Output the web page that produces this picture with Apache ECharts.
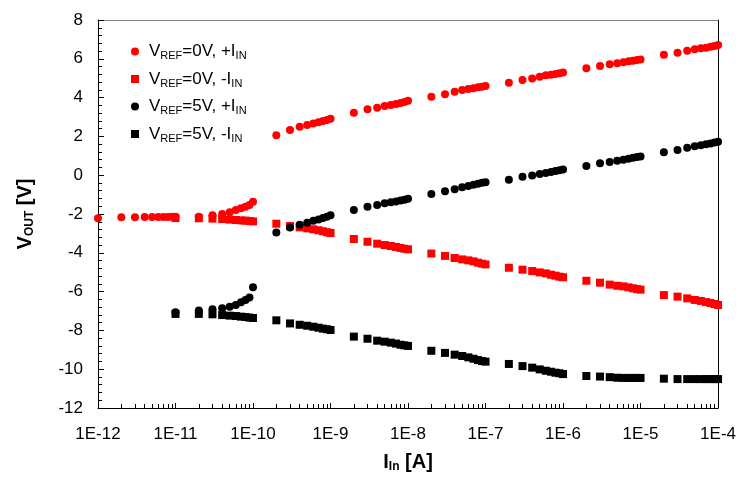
<!DOCTYPE html>
<html>
<head>
<meta charset="utf-8">
<script src="https://cdn.jsdelivr.net/npm/echarts@6/dist/echarts.min.js"></script>
<style>html,body{margin:0;padding:0;background:#fff;}#c{width:739px;height:478px;}</style>
</head>
<body>
<div id="c"></div>
<script>
// Input current values (A)
const currentsA = [
  1e-12,2e-12,3e-12,4e-12,5e-12,6e-12,7e-12,8e-12,9e-12,
  1e-11,2e-11,3e-11,4e-11,5e-11,6e-11,7e-11,8e-11,9e-11,
  1e-10,2e-10,3e-10,4e-10,5e-10,6e-10,7e-10,8e-10,9e-10,
  1e-9,2e-9,3e-9,4e-9,5e-9,6e-9,7e-9,8e-9,9e-9,
  1e-8,2e-8,3e-8,4e-8,5e-8,6e-8,7e-8,8e-8,9e-8,
  1e-7,2e-7,3e-7,4e-7,5e-7,6e-7,7e-7,8e-7,9e-7,
  1e-6,2e-6,3e-6,4e-6,5e-6,6e-6,7e-6,8e-6,9e-6,
  1e-5,2e-5,3e-5,4e-5,5e-5,6e-5,7e-5,8e-5,9e-5,
  1e-4
];
const currentsB = [
  1e-11,2e-11,3e-11,4e-11,5e-11,6e-11,7e-11,8e-11,9e-11,
  1e-10,2e-10,3e-10,4e-10,5e-10,6e-10,7e-10,8e-10,9e-10,
  1e-9,2e-9,3e-9,4e-9,5e-9,6e-9,7e-9,8e-9,9e-9,
  1e-8,2e-8,3e-8,4e-8,5e-8,6e-8,7e-8,8e-8,9e-8,
  1e-7,2e-7,3e-7,4e-7,5e-7,6e-7,7e-7,8e-7,9e-7,
  1e-6,2e-6,3e-6,4e-6,5e-6,6e-6,7e-6,8e-6,9e-6,
  1e-5,2e-5,3e-5,4e-5,5e-5,6e-5,7e-5,8e-5,9e-5,
  1e-4
];
// V_REF=0V, +I_IN
const vRef0Pos = [
  -2.22,-2.17,-2.17,-2.16,-2.16,-2.15,-2.15,-2.15,-2.14,
  -2.14,-2.14,-2.07,-2.00,-1.91,-1.80,-1.71,-1.62,-1.54,
  -1.37,2.06,2.33,2.50,2.59,2.67,2.73,2.79,2.85,
  2.91,3.22,3.40,3.48,3.57,3.62,3.67,3.72,3.77,
  3.84,4.05,4.17,4.30,4.39,4.44,4.48,4.53,4.56,
  4.60,4.77,4.91,4.99,5.08,5.15,5.18,5.22,5.25,
  5.30,5.51,5.63,5.72,5.77,5.82,5.87,5.90,5.94,
  5.97,6.21,6.31,6.42,6.49,6.54,6.57,6.62,6.66,
  6.71
];
// V_REF=0V, -I_IN
const vRef0Neg = [
  -2.21,-2.22,-2.24,-2.26,-2.29,-2.31,-2.33,-2.34,-2.36,
  -2.38,-2.50,-2.62,-2.69,-2.74,-2.79,-2.84,-2.89,-2.94,
  -2.98,-3.29,-3.43,-3.53,-3.60,-3.65,-3.70,-3.75,-3.79,
  -3.82,-4.04,-4.16,-4.27,-4.34,-4.39,-4.44,-4.51,-4.56,
  -4.60,-4.77,-4.87,-4.94,-5.01,-5.06,-5.13,-5.18,-5.23,
  -5.26,-5.44,-5.54,-5.64,-5.70,-5.73,-5.78,-5.83,-5.87,
  -5.90,-6.18,-6.26,-6.35,-6.43,-6.48,-6.54,-6.59,-6.64,
  -6.69
];
// V_REF=5V, +I_IN
const vRef5Pos = [
  -7.07,-6.98,-6.91,-6.86,-6.78,-6.69,-6.55,-6.43,-6.30,
  -5.78,-2.96,-2.69,-2.55,-2.45,-2.35,-2.28,-2.21,-2.14,
  -2.07,-1.79,-1.62,-1.54,-1.45,-1.40,-1.35,-1.30,-1.26,
  -1.21,-0.97,-0.83,-0.73,-0.62,-0.56,-0.49,-0.44,-0.39,
  -0.36,-0.23,-0.08,-0.02,0.06,0.11,0.16,0.22,0.25,
  0.30,0.47,0.61,0.68,0.75,0.80,0.85,0.90,0.94,
  0.97,1.18,1.30,1.42,1.49,1.54,1.59,1.64,1.68,
  1.73
];
// V_REF=5V, -I_IN
const vRef5Neg = [
  -7.15,-7.15,-7.17,-7.21,-7.24,-7.26,-7.29,-7.31,-7.34,
  -7.36,-7.48,-7.64,-7.71,-7.76,-7.81,-7.86,-7.91,-7.94,
  -7.98,-8.32,-8.43,-8.53,-8.58,-8.63,-8.68,-8.74,-8.77,
  -8.80,-9.05,-9.16,-9.25,-9.32,-9.39,-9.46,-9.53,-9.58,
  -9.61,-9.73,-9.84,-9.92,-10.01,-10.08,-10.13,-10.18,-10.21,
  -10.25,-10.35,-10.38,-10.41,-10.44,-10.45,-10.45,-10.45,-10.45,
  -10.45,-10.49,-10.51,-10.51,-10.51,-10.51,-10.51,-10.51,-10.51,
  -10.51
];
const seriesNames = ['s0p', 's0n', 's5p', 's5n'];
const legendLabels = {
  s0p: ['0V, +I'],
  s0n: ['0V, -I'],
  s5p: ['5V, +I'],
  s5n: ['5V, -I']
};
const yTickLabels = ['-12','-10','-8','-6','-4','-2','0','2','4','6','8'];

const FONT = '"Liberation Sans", Arial, sans-serif';
const minorX = [];
for (let e = -12; e < -4; e++) for (let k = 2; k <= 9; k++) minorX.push(Math.log10(k) + e);

function zip(xs, ys) { return xs.map((x, i) => [x, ys[i]]); }

const chart = echarts.init(document.getElementById('c'), null, {renderer: 'canvas'});
const legendRich = {
  g: {width: 5},
  a: {fontSize: 17, fontFamily: FONT, color: '#000', lineHeight: 20},
  s: {fontSize: 11, fontFamily: FONT, color: '#000', lineHeight: 10, verticalAlign: 'bottom'}
};
chart.setOption({
  animation: false,
  backgroundColor: '#fff',
  textStyle: {fontFamily: FONT},
  grid: {left: 98, right: 19, top: 20, bottom: 70, containLabel: false},
  legend: {
    orient: 'vertical',
    left: 126,
    top: 38,
    itemWidth: 8,
    itemHeight: 8,
    itemGap: 9,
    data: seriesNames,
    formatter: n => '{g|}{a|V}{s|REF}{a|=' + legendLabels[n][0] + '}{s|IN}',
    textStyle: {rich: legendRich, fontFamily: FONT}
  },
  xAxis: [{
    type: 'log',
    logBase: 10,
    min: 1e-12,
    max: 1e-4,
    splitNumber: 8,
    position: 'bottom',
    axisLine: {show: true, onZero: false, lineStyle: {color: '#000', width: 1}},
    axisTick: {show: true, inside: true, length: 5, lineStyle: {color: '#000'}},
    minorTick: {show: false},
    splitLine: {show: false},
    axisLabel: {
      color: '#000', fontSize: 17, fontFamily: FONT, margin: 18,
      formatter: v => '1E' + Math.round(Math.log10(v))
    },
    name: '{b|I}{bs|In}{b| [A]}',
    nameLocation: 'middle',
    nameGap: 43,
    nameTextStyle: {
      rich: {
        b: {fontSize: 20, fontWeight: 'bold', fontFamily: FONT, color: '#000', lineHeight: 22},
        bs: {fontSize: 12, fontWeight: 'bold', fontFamily: FONT, color: '#000', lineHeight: 12, verticalAlign: 'bottom'}
      }
    }
  }, {
    type: 'value',
    min: -12,
    max: -4,
    position: 'bottom',
    axisLine: {show: false, onZero: false},
    axisTick: {show: true, inside: true, length: 4, customValues: minorX, lineStyle: {color: '#000'}},
    axisLabel: {show: false},
    splitLine: {show: false}
  }, {
    type: 'value',
    min: 0, max: 1,
    position: 'top',
    axisLine: {show: true, onZero: false, lineStyle: {color: '#808080', width: 1}},
    axisTick: {show: false},
    axisLabel: {show: false},
    splitLine: {show: false}
  }],
  yAxis: [{
    type: 'value',
    min: -12,
    max: 8,
    interval: 2,
    axisLine: {show: true, onZero: false, lineStyle: {color: '#000', width: 1}},
    axisTick: {show: true, inside: true, length: 6, lineStyle: {color: '#000', width: 1}},
    minorTick: {show: true, splitNumber: 5, length: 4, lineStyle: {color: '#000', width: 1}},
    splitLine: {show: false},
    axisLabel: {
      color: '#000', fontSize: 17, fontFamily: FONT, margin: 15,
      formatter: (v, i) => yTickLabels[i] !== undefined ? yTickLabels[i] : String(v)
    },
    name: '{b|V}{bs|OUT}{b| [V]}',
    nameLocation: 'middle',
    nameGap: 62,
    nameRotate: 90,
    nameTextStyle: {
      rich: {
        b: {fontSize: 20, fontWeight: 'bold', fontFamily: FONT, color: '#000', lineHeight: 22},
        bs: {fontSize: 12, fontWeight: 'bold', fontFamily: FONT, color: '#000', lineHeight: 12, verticalAlign: 'bottom'}
      }
    }
  }, {
    type: 'value',
    min: 0, max: 1,
    position: 'right',
    axisLine: {show: true, onZero: false, lineStyle: {color: '#000', width: 1}},
    axisTick: {show: false},
    axisLabel: {show: false},
    splitLine: {show: false}
  }],
  series: [
    {name: 's0p', type: 'scatter', symbol: 'circle', symbolSize: 8, itemStyle: {color: '#ff0000', opacity: 1}, data: zip(currentsA, vRef0Pos)},
    {name: 's0n', type: 'scatter', symbol: 'rect', symbolSize: 8, itemStyle: {color: '#ff0000', opacity: 1}, data: zip(currentsB, vRef0Neg)},
    {name: 's5p', type: 'scatter', symbol: 'circle', symbolSize: 8, itemStyle: {color: '#000000', opacity: 1}, data: zip(currentsB, vRef5Pos)},
    {name: 's5n', type: 'scatter', symbol: 'rect', symbolSize: 8, itemStyle: {color: '#000000', opacity: 1}, data: zip(currentsB, vRef5Neg)}
  ]
});
</script>
</body>
</html>
